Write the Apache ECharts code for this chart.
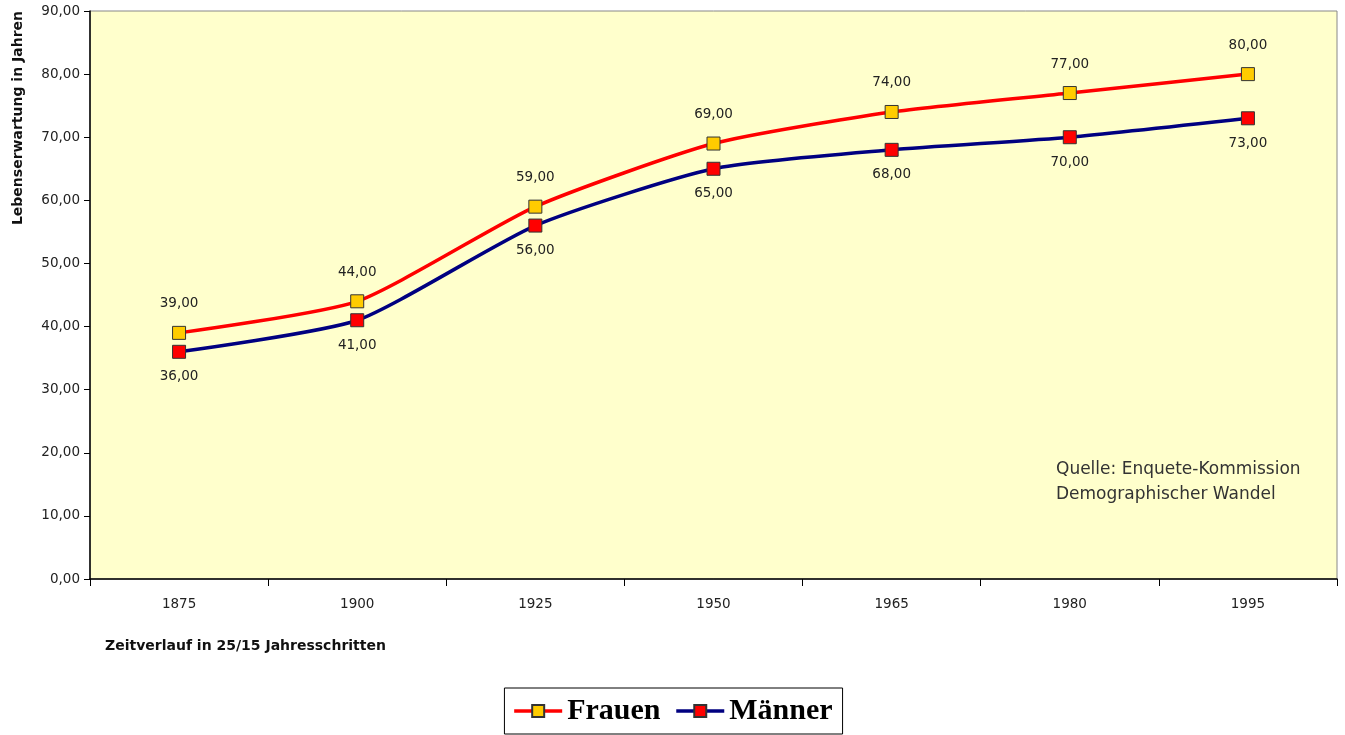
<!DOCTYPE html>
<html><head><meta charset="utf-8">
<script src="https://cdn.jsdelivr.net/npm/echarts@6/dist/echarts.min.js"></script>
<style>html,body{margin:0;padding:0;background:#fff}#c{width:1345px;height:735px}</style>
</head><body><div id="c"></div>
<script>
const categories = ['1875','1900','1925','1950','1965','1980','1995'];
const frauen = [39, 44, 59, 69, 74, 77, 80];
const maenner = [36, 41, 56, 65, 68, 70, 73];
const yTicks = {min: 0, max: 90, interval: 10};

const fmt = v => v.toFixed(2).replace('.', ',');
const FONT = 'DejaVu Sans, Verdana, sans-serif';
const chart = echarts.init(document.getElementById('c'));
chart.setOption({
  animation: false,
  backgroundColor: '#fff',
  grid: {left: 90, right: 8, top: 11, bottom: 156, show: true, backgroundColor: '#FFFFCC', borderColor: '#888', borderWidth: 1},
  xAxis: {
    type: 'category', data: categories, boundaryGap: true,
    axisLine: {lineStyle: {color: '#000', width: 1.5}},
    axisTick: {show: true, length: 7, lineStyle: {color: '#000'}},
    axisLabel: {color: '#222', fontFamily: FONT, fontSize: 13.5, margin: 18},
    splitLine: {show: false}
  },
  yAxis: {
    type: 'value', min: yTicks.min, max: yTicks.max, interval: yTicks.interval,
    name: 'Lebenserwartung in Jahren', nameLocation: 'end', nameRotate: 90,
    nameGap: 0,
    nameTextStyle: {fontFamily: FONT, fontWeight: 'bold', fontSize: 14, color: '#111', align: 'right', verticalAlign: 'bottom', padding: [0, 0, 65, 0]},
    axisLine: {show: true, lineStyle: {color: '#000', width: 1.5}},
    axisTick: {show: true, length: 6, lineStyle: {color: '#000'}},
    axisLabel: {color: '#222', fontFamily: FONT, fontSize: 13.5, margin: 10, formatter: v => fmt(v)},
    splitLine: {show: false}
  },
  legend: {
    bottom: 1, left: 'center',
    backgroundColor: '#fff', borderColor: '#000', borderWidth: 1,
    padding: [8, 10, 8, 8], itemGap: 14, itemWidth: 48, itemHeight: 15,
    lineStyle: {width: 3.5},
    textStyle: {fontFamily: 'Liberation Serif, Times New Roman, serif', fontWeight: 'bold', fontSize: 30, color: '#000'},
    data: ['Frauen', 'Männer']
  },
  series: [
    {
      name: 'Frauen', type: 'line', data: frauen, smooth: 0.2,
      lineStyle: {color: '#FF0000', width: 3.5},
      itemStyle: {color: '#FFCC00', borderColor: '#333', borderWidth: 1},
      symbol: 'rect', symbolSize: 13,
      label: {show: true, position: 'top', distance: 15, formatter: p => fmt(p.value), color: '#222', fontFamily: FONT, fontSize: 13.5}
    },
    {
      name: 'Männer', type: 'line', data: maenner, smooth: 0.2,
      lineStyle: {color: '#000080', width: 3.5},
      itemStyle: {color: '#FF0000', borderColor: '#333', borderWidth: 1},
      symbol: 'rect', symbolSize: 13,
      label: {show: true, position: 'bottom', distance: 11, formatter: p => fmt(p.value), color: '#222', fontFamily: FONT, fontSize: 13.5}
    }
  ],
  graphic: [
    {type: 'text', left: 105, top: 639, style: {text: 'Zeitverlauf in 25/15 Jahresschritten', fontFamily: FONT, fontWeight: 'bold', fontSize: 14, fill: '#111'}},
    {type: 'text', left: 1056, top: 457, style: {text: 'Quelle: Enquete-Kommission\nDemographischer Wandel', fontFamily: FONT, fontSize: 17, lineHeight: 25, fill: '#333'}}
  ]
});
</script></body></html>
